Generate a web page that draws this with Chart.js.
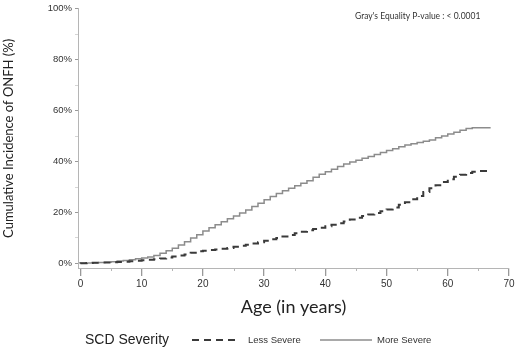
<!DOCTYPE html>
<html>
<head>
<meta charset="utf-8">
<script src="https://cdn.jsdelivr.net/npm/chart.js@4.4.1/dist/chart.umd.min.js"></script>
<style>
  html, body { margin: 0; padding: 0; background: #fff; }
  #wrap { width: 520px; height: 353px; }
</style>
</head>
<body>
<div id="wrap"><canvas id="ChartOnfh" width="520" height="353"></canvas></div>
<script>
// ages (years) at which the cumulative incidence is read
const Edades = [0,1,2,3,4,5,6,7,8,9,10,11,12,13,14,15,16,17,18,19,20,21,22,23,24,25,26,27,28,29,30,31,32,33,34,35,36,37,38,39,40,41,42,43,44,45,46,47,48,49,50,51,52,53,54,55,56,57,58,59,60,61,62,63,64,65,66,67];

// cumulative incidence of ONFH (%)
const LessSevere = [0,0.1,0.2,0.3,0.35,0.4,0.5,0.6,0.7,0.85,1,1.2,1.4,1.6,1.9,2.3,2.7,3.1,3.5,4.2,4.8,5,5.3,5.5,5.8,6.1,6.5,6.9,7.3,7.8,8.3,8.9,9.5,10,10.6,11.2,11.8,12.4,13,13.5,14,14.6,15.2,15.8,16.5,17.2,17.9,18.6,19.2,19.8,20.5,21.2,22,23,24,25.2,26.5,28,29.5,30.7,32,33,34,34.8,35.5,36,36.3,36.3];
const MoreSevere = [0,0.1,0.2,0.3,0.4,0.5,0.7,0.9,1.1,1.4,1.8,2.1,2.5,3.1,4,5,6,7.2,8.5,10,11.3,12.7,14,15.2,16.4,17.5,18.6,19.8,21,22.3,23.6,25,26.3,27.4,28.5,29.5,30.5,31.5,32.5,33.8,35,36,37,38,39,39.8,40.5,41.3,42,42.8,43.5,44.3,45,45.8,46.5,47,47.5,48,48.5,49.3,50,50.8,51.5,52.3,53,53.3,53.3,53.3];

const XTicks = [0,10,20,30,40,50,60,70];
const XMinorTicks = [5,15,25,35,45,55,65];
const YTicks = [0,10,20,30,40,50,60,70,80,90,100];
const YLabelTicks = [0,20,40,60,80,100];

const Series = [
    { label: 'Less Severe', data: LessSevere, color: '#3a3a3a', width: 2, dash: [7, 5] },
    { label: 'More Severe', data: MoreSevere, color: '#8c8c8c', width: 1.5, dash: [] }
];

const toPoints = (vals) => Edades.map((e, i) => ({ x: e, y: vals[i] }));

// minor ticks on the x axis and texts outside the plot
const Decoracion = {
    id: 'decoracion',
    afterDraw(chart) {
        const ctx = chart.ctx;
        const xs = chart.scales.x;
        const area = chart.chartArea;
        ctx.save();
        ctx.strokeStyle = '#b5b5b5';
        ctx.lineWidth = 1;
        XMinorTicks.forEach(v => {
            const px = Math.round(xs.getPixelForValue(v)) + 0.5;
            ctx.beginPath();
            ctx.moveTo(px, area.bottom);
            ctx.lineTo(px, area.bottom + 3);
            ctx.stroke();
        });

        // p-value
        ctx.fillStyle = '#333';
        ctx.font = '8.5px Lato';
        ctx.textBaseline = 'middle';
        ctx.textAlign = 'left';
        ctx.fillText("Gray's Equality P-value : < 0.0001", 355, 16);

        // legend row
        const y = 340;
        ctx.fillStyle = '#222';
        ctx.font = '14px "Liberation Sans"';
        ctx.fillText('SCD Severity', 85, y);

        const muestras = [
            { x0: 192, x1: 240, tx: 248 },
            { x0: 320, x1: 372, tx: 377 }
        ];
        Series.forEach((s, i) => {
            const m = muestras[i];
            ctx.strokeStyle = s.color;
            ctx.lineWidth = s.width;
            ctx.setLineDash(s.dash);
            ctx.beginPath();
            ctx.moveTo(m.x0, y);
            ctx.lineTo(m.x1, y);
            ctx.stroke();
            ctx.setLineDash([]);
            ctx.fillStyle = '#333';
            ctx.font = '9.5px "Liberation Sans"';
            ctx.fillText(s.label, m.tx, y);
        });
        ctx.restore();
    }
};

const ctxOnfh = document.getElementById('ChartOnfh');
const ChartOnfh = new Chart(ctxOnfh, {
    type: 'line',
    data: {
        datasets: Series.map(s => ({
            label: s.label,
            data: toPoints(s.data),
            borderColor: s.color,
            borderWidth: s.width,
            borderDash: s.dash,
            stepped: 'after',
            pointRadius: 0,
            fill: false
        }))
    },
    options: {
        responsive: false,
        animation: false,
        layout: { padding: { top: 6, right: 11, bottom: 35, left: 0 } },
        plugins: {
            legend: { display: false },
            tooltip: { enabled: false }
        },
        scales: {
            x: {
                type: 'linear',
                min: -0.4,
                max: 70,
                afterBuildTicks: (scale) => { scale.ticks = XTicks.map(v => ({ value: v })); },
                afterFit: (scale) => { scale.height = 50; },
                border: { display: true, color: '#b5b5b5', width: 1 },
                grid: { drawOnChartArea: false, drawTicks: true, tickLength: 8, color: '#999', lineWidth: 1.3 },
                ticks: { color: '#333', font: { family: 'Liberation Sans', size: 10 }, padding: 2, maxRotation: 0 },
                title: {
                    display: true,
                    text: 'Age (in years)',
                    color: '#222',
                    font: { family: 'Lato', size: 18 },
                    padding: { top: 0, bottom: 0 }
                }
            },
            y: {
                type: 'linear',
                min: -1.8,
                max: 100,
                afterBuildTicks: (scale) => { scale.ticks = YTicks.map(v => ({ value: v })); },
                afterFit: (scale) => { scale.width = 78; },
                border: { display: true, color: '#b5b5b5', width: 1 },
                grid: {
                    drawOnChartArea: false,
                    drawTicks: true,
                    tickLength: 3,
                    color: (c) => (YLabelTicks.includes(c.tick ? c.tick.value : -1) ? '#999' : '#d5d5d5')
                },
                ticks: {
                    color: '#333',
                    font: { family: 'Liberation Sans', size: 9.5 },
                    padding: 3,
                    callback: (v) => (YLabelTicks.includes(v) ? v + '%' : '')
                },
                title: {
                    display: true,
                    text: 'Cumulative Incidence of ONFH (%)',
                    color: '#222',
                    font: { family: 'Lato', size: 13 },
                    padding: { top: 1, bottom: 0 }
                }
            }
        }
    },
    plugins: [Decoracion]
});
</script>
</body>
</html>
